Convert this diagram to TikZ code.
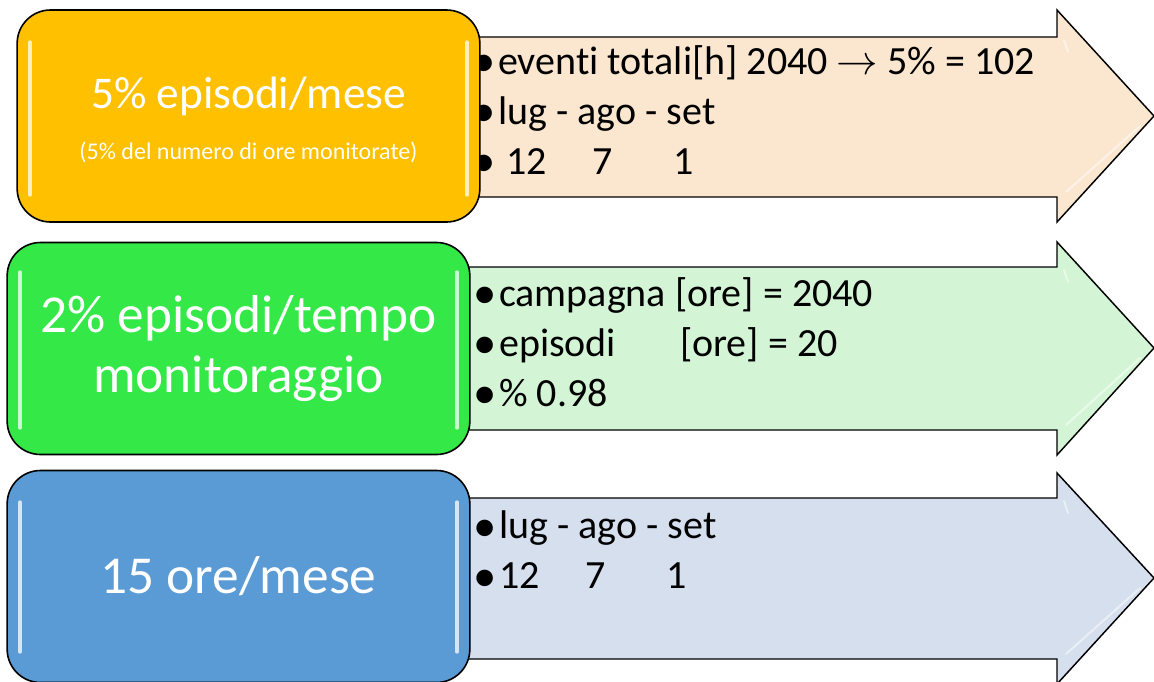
\documentclass[tikz,border=0pt]{standalone}
\usepackage{fontspec}
\setmainfont{Carlito}[Ligatures=CommonOff]
\usetikzlibrary{positioning}
\definecolor{cgold}{HTML}{FFC000}
\definecolor{cgreen}{HTML}{34E848}
\definecolor{cblue}{HTML}{5B9BD5}
\definecolor{lightorange}{HTML}{FBE6D0}
\definecolor{lightgreen}{HTML}{D3F5D5}
\definecolor{lightblue}{HTML}{D6DFEE}
\newcommand{\itembullet}{\raisebox{-1.8pt}{\fontsize{35}{30}\selectfont\textbullet}\hspace{2pt}}

\begin{document}
\begin{tikzpicture}[x=0.75pt, y=-0.75pt,
  box/.style={draw=black, line width=1.2pt, rounded corners=25pt, inner sep=0pt,
    minimum width=347pt, minimum height=159pt, text=white, align=center},
  title/.style={text=white, inner sep=0pt, align=center},
  arrowshape/.style={draw=black, line width=1.1pt, line join=miter},
  items/.style={anchor=west, inner sep=0pt, align=left, text=black,
    font=\fontsize{30}{37.5}\selectfont},
  shine/.style={white, opacity=0.75, line width=2.5pt, line cap=round}]
  \useasboundingbox (0,0) rectangle (1154,682);

  % Arrows behind the boxes
  \filldraw[arrowshape, fill=lightorange] (470,37) -- (1057,37) -- (1057,10) -- (1154,116)
    -- (1057,222) -- (1057,197) -- (470,197) -- cycle;
  \filldraw[arrowshape, fill=lightgreen] (460,267) -- (1057,267) -- (1057,242) -- (1154,348)
    -- (1057,455) -- (1057,430) -- (460,430) -- cycle;
  \filldraw[arrowshape, fill=lightblue] (460,498) -- (1057,498) -- (1057,473) -- (1154,578)
    -- (1057,684) -- (1057,659) -- (460,659) -- cycle;
  \draw[shine, opacity=0.5, line width=1.5pt] (1064,40) -- (1068,52);
  \draw[shine, opacity=0.5, line width=1.5pt] (1066,192) -- (1140,126);
  \draw[shine, opacity=0.5, line width=1.5pt] (1064,270) -- (1068,282);
  \draw[shine, opacity=0.5, line width=1.5pt] (1066,425) -- (1140,358);
  \draw[shine, opacity=0.5, line width=1.5pt] (1064,501) -- (1068,513);
  \draw[shine, opacity=0.5, line width=1.5pt] (1066,654) -- (1140,588);

  % Bullet lists
  \node[items] (list1) at (472,111) {\itembullet eventi totali[h] 2040
    \scalebox{1.25}{$\rightarrow$}\ 5\% = 102\\
    \itembullet lug - ago - set\\
    \itembullet\hspace{6pt}12\hspace{34pt}7\hspace{46pt}1};
  \node[items] (list2) at (473,343) {\itembullet campagna [ore] = 2040\\
    \itembullet episodi\hspace{48pt}[ore] = 20\\
    \itembullet\% 0.98};
  \node[items] (list3) at (473,551) {\itembullet lug - ago - set\\
    \itembullet 12\hspace{34pt}7\hspace{46pt}1};

  % Coloured boxes
  \node[box, fill=cgold] (box1) at (248.5,116) {};
  \node[title, font=\fontsize{34}{40}\selectfont] (title1) at (248.5,96) {5\% episodi/mese};
  \node[title, font=\fontsize{18}{22}\selectfont] (sub1) at (248.5,152) {(5\% del numero di ore monitorate)};
  \node[box, fill=cgreen, font=\fontsize{40}{45}\selectfont] (box2) at (238.5,348.5) {2\% episodi/tempo\\
    monitoraggio};
  \node[box, fill=cblue, font=\fontsize{40}{48}\selectfont] (box3) at (238.5,576.5) {15 ore/mese};

  % Gloss on the box edges
  \draw[shine] (30,42) -- (30,195);
  \draw[shine] (467,42) -- (467,195);
  \draw[shine] (20,272) -- (20,428);
  \draw[shine] (457,272) -- (457,428);
  \draw[shine] (20,502) -- (20,652);
  \draw[shine] (457,502) -- (457,652);
\end{tikzpicture}
\end{document}
